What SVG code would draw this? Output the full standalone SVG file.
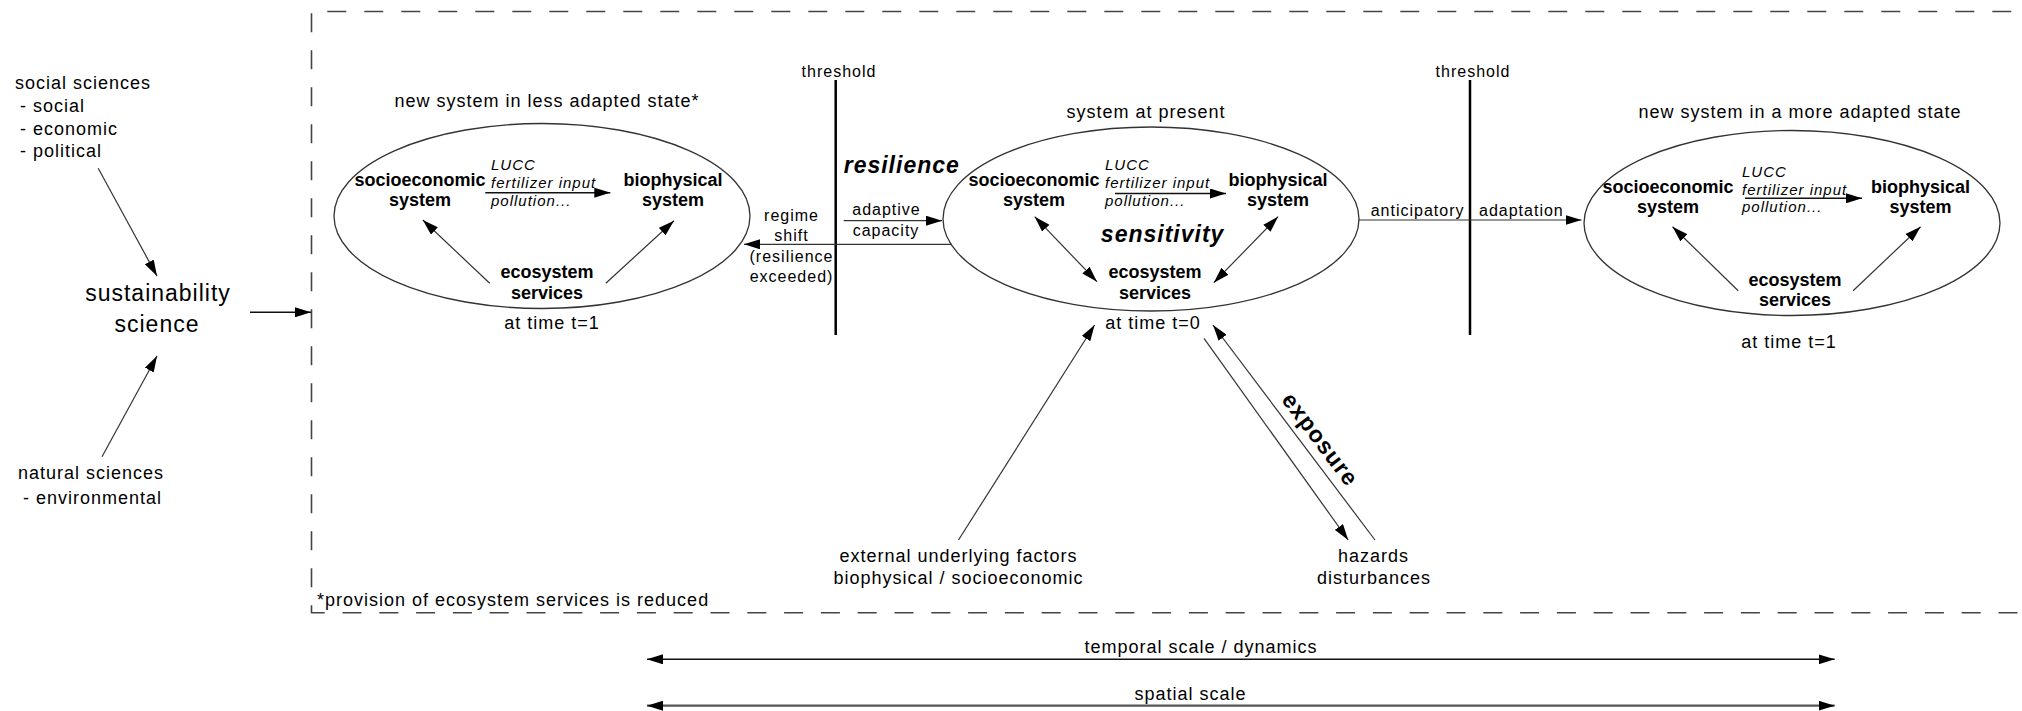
<svg xmlns="http://www.w3.org/2000/svg" width="2022" height="711" viewBox="0 0 2022 711">
<style>
.t{font-family:"Liberation Sans",Arial,Helvetica,sans-serif;font-size:18px;letter-spacing:1px;fill:#000}
.m{text-anchor:middle}
.s16{font-size:16px}
.big{font-size:23px}
.b{font-weight:bold;letter-spacing:0}
.i{font-style:italic;font-size:15px;letter-spacing:1px}
.bi{font-weight:bold;font-style:italic;font-size:23px;letter-spacing:1px}
.ln{stroke:#333;stroke-width:1.2;fill:none}
.ar{stroke:#111;stroke-width:1.5;fill:none}
.th{stroke:#000;stroke-width:2.5;fill:none}
.el{stroke:#333;stroke-width:1.3;fill:#fff}
.dash{stroke:#444;stroke-width:1.6;fill:none;stroke-dasharray:19 18}
</style>
<defs>
<marker id="ah" markerUnits="userSpaceOnUse" markerWidth="16" markerHeight="10" refX="16" refY="5" orient="auto-start-reverse" viewBox="0 0 16 10">
<path d="M0,0 L16,5 L0,10 z" fill="#000"/>
</marker>
</defs>
<rect width="2022" height="711" fill="#fff"/>

<g id="frame">
<line class="dash" x1="327.3" y1="11.5" x2="2022" y2="11.5"/>
<line class="dash" x1="311.5" y1="13.3" x2="311.5" y2="613"/>
<line class="dash" x1="311" y1="612.7" x2="2022" y2="612.7" style="stroke-dasharray:19 17.8;stroke-dashoffset:5.3"/>
<text class="t" x="317" y="606">*provision of ecosystem services is reduced</text>
</g>

<g id="social-sciences">
<text class="t" x="15" y="89">social sciences</text>
<text class="t" x="20" y="112">- social</text>
<text class="t" x="20" y="134.5">- economic</text>
<text class="t" x="20" y="157">- political</text>
</g>
<g id="sustainability-science">
<text class="t m big" x="158" y="301">sustainability</text>
<text class="t m big" x="157" y="332">science</text>
</g>
<g id="natural-sciences">
<text class="t" x="18" y="479">natural sciences</text>
<text class="t" x="23" y="504">- environmental</text>
</g>

<g id="system-t1-less">
<text class="t m" x="547" y="107">new system in less adapted state*</text>
<ellipse class="el" cx="542" cy="216" rx="208" ry="92.5"/>
<text class="t m b" x="420" y="186">socioeconomic</text>
<text class="t m b" x="420" y="206">system</text>
<text class="t i" x="491" y="169.5">LUCC</text>
<text class="t i" x="491" y="187.5">fertilizer input</text>
<text class="t i" x="491" y="205.5">pollution...</text>
<text class="t m b" x="673" y="186">biophysical</text>
<text class="t m b" x="673" y="206">system</text>
<text class="t m b" x="547" y="278">ecosystem</text>
<text class="t m b" x="547" y="299">services</text>
<line class="ar" x1="485.3" y1="192.7" x2="610.3" y2="192.7" marker-end="url(#ah)"/>
<line class="ln" x1="489.7" y1="283.3" x2="422.8" y2="220" marker-end="url(#ah)"/>
<line class="ln" x1="605.8" y1="283.3" x2="674" y2="220.7" marker-end="url(#ah)"/>
<text class="t m" x="552" y="329">at time t=1</text>
</g>

<g id="system-t0">
<text class="t m" x="1146" y="117.5">system at present</text>
<ellipse class="el" cx="1151" cy="219" rx="208" ry="92"/>
<text class="t m b" x="1034" y="186">socioeconomic</text>
<text class="t m b" x="1034" y="206">system</text>
<text class="t i" x="1105" y="170">LUCC</text>
<text class="t i" x="1105" y="188">fertilizer input</text>
<text class="t i" x="1105" y="206">pollution...</text>
<text class="t m b" x="1278" y="186">biophysical</text>
<text class="t m b" x="1278" y="206">system</text>
<text class="t m bi" x="1162.6" y="241.5">sensitivity</text>
<text class="t m b" x="1155" y="278">ecosystem</text>
<text class="t m b" x="1155" y="299">services</text>
<line class="ar" x1="1115" y1="193.5" x2="1226" y2="193.5" marker-end="url(#ah)"/>
<line class="ln" x1="1034.7" y1="216.7" x2="1097" y2="281.7" marker-start="url(#ah)" marker-end="url(#ah)"/>
<line class="ln" x1="1278.1" y1="216.7" x2="1213.8" y2="282.7" marker-start="url(#ah)" marker-end="url(#ah)"/>
<text class="t m" x="1153" y="329">at time t=0</text>
</g>

<g id="system-t1-more">
<text class="t m" x="1800" y="118">new system in a more adapted state</text>
<ellipse class="el" cx="1792" cy="223" rx="208" ry="92.5"/>
<text class="t m b" x="1668" y="193">socioeconomic</text>
<text class="t m b" x="1668" y="213">system</text>
<text class="t i" x="1742" y="177">LUCC</text>
<text class="t i" x="1742" y="194.5">fertilizer input</text>
<text class="t i" x="1742" y="212">pollution...</text>
<text class="t m b" x="1920.5" y="193">biophysical</text>
<text class="t m b" x="1920.5" y="213">system</text>
<text class="t m b" x="1795" y="286">ecosystem</text>
<text class="t m b" x="1795" y="306">services</text>
<line class="ar" x1="1745" y1="198.3" x2="1862" y2="198.3" marker-end="url(#ah)"/>
<line class="ln" x1="1738.2" y1="290.7" x2="1672.5" y2="226.7" marker-end="url(#ah)"/>
<line class="ln" x1="1853.1" y1="290.7" x2="1920.6" y2="226.7" marker-end="url(#ah)"/>
<text class="t m" x="1789" y="347.5">at time t=1</text>
</g>

<g id="threshold-left">
<text class="t m s16" x="839" y="76.5">threshold</text>
<line class="th" x1="835.7" y1="80" x2="835.7" y2="335"/>
</g>
<g id="threshold-right">
<text class="t m s16" x="1473" y="76.5">threshold</text>
<line class="th" x1="1470" y1="80" x2="1470" y2="335"/>
</g>

<g id="external-factors">
<text class="t m" x="958.5" y="561.5">external underlying factors</text>
<text class="t m" x="958.5" y="584">biophysical / socioeconomic</text>
</g>
<g id="hazards">
<text class="t m" x="1373.6" y="561.5">hazards</text>
<text class="t m" x="1374" y="584">disturbances</text>
</g>

<g id="connectors">
<line class="ln" x1="98.2" y1="168.3" x2="157" y2="276" marker-end="url(#ah)"/>
<line class="ln" x1="102" y1="456.7" x2="157" y2="356" marker-end="url(#ah)"/>
<line class="ar" x1="250" y1="312.3" x2="311" y2="312.3" marker-end="url(#ah)"/>

<text class="t bi" x="843.7" y="172.5">resilience</text>
<line class="ln" x1="843.7" y1="220.7" x2="942" y2="220.7" marker-end="url(#ah)"/>
<text class="t m s16" x="886.5" y="215">adaptive</text>
<text class="t m s16" x="886" y="235.5">capacity</text>

<line class="ln" x1="952" y1="244.3" x2="744" y2="244.3" marker-end="url(#ah)"/>
<text class="t m s16" x="791.5" y="221">regime</text>
<text class="t m s16" x="791.5" y="241">shift</text>
<text class="t m s16" x="791.5" y="262">(resilience</text>
<text class="t m s16" x="791.5" y="282">exceeded)</text>

<line class="ln" x1="1359" y1="220" x2="1581.5" y2="220" marker-end="url(#ah)"/>
<text class="t s16" x="1370.7" y="215.7">anticipatory</text>
<text class="t s16" x="1479" y="215.7">adaptation</text>

<line class="ln" x1="958.5" y1="540" x2="1094.6" y2="325" marker-end="url(#ah)"/>
<line class="ln" x1="1204" y1="338.3" x2="1348.2" y2="540" marker-end="url(#ah)"/>
<line class="ln" x1="1375" y1="540" x2="1213" y2="325" marker-end="url(#ah)"/>
<text class="t m bi" style="font-style:normal" transform="translate(1314,444) rotate(53)" x="0" y="0">exposure</text>

<line class="ar" x1="647" y1="659.3" x2="1834.7" y2="659.3" marker-start="url(#ah)" marker-end="url(#ah)"/>
<text class="t m" x="1201" y="653">temporal scale / dynamics</text>
<line x1="647" y1="705.7" x2="1834.7" y2="705.7" stroke="#555" stroke-width="2.2" marker-start="url(#ah)" marker-end="url(#ah)"/>
<text class="t m" x="1190.5" y="700">spatial scale</text>
</g>
</svg>
